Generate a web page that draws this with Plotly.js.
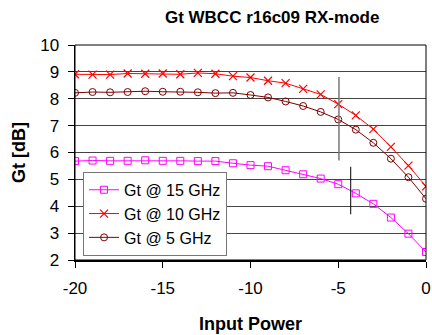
<!DOCTYPE html>
<html>
<head>
<meta charset="utf-8">
<script src="https://cdn.plot.ly/plotly-3.0.1.min.js"></script>
<style>
html,body{margin:0;padding:0;background:#fff;}
#chart{width:432px;height:335px;}
</style>
</head>
<body>
<div id="chart"></div>
<script>
// Input power (dB)
const inputPower = [-20,-19,-18,-17,-16,-15,-14,-13,-12,-11,-10,-9,-8,-7,-6,-5,-4,-3,-2,-1,0];
// Gain series
const gt15 = [5.68,5.70,5.69,5.69,5.71,5.69,5.69,5.68,5.68,5.60,5.53,5.49,5.34,5.19,5.03,4.82,4.48,4.09,3.58,2.98,2.30];
const gt10 = [8.91,8.90,8.90,8.94,8.93,8.94,8.91,8.96,8.93,8.84,8.79,8.67,8.58,8.37,8.16,7.80,7.38,6.87,6.21,5.51,4.74];
const gt5  = [8.22,8.25,8.24,8.25,8.28,8.26,8.26,8.24,8.21,8.22,8.14,8.05,7.90,7.73,7.51,7.23,6.85,6.36,5.77,5.08,4.28];
// Compression markers (vertical bars)
const markerX   = [-4.96, -4.29];
const markerTop = [8.81, 5.47];
const markerBot = [5.70, 3.70];
const seriesNames = ["Gt @ 15 GHz","Gt @ 10 GHz","Gt @ 5 GHz"];
const xTicks = [-20,-15,-10,-5,0];
const yTicks = [2,3,4,5,6,7,8,9,10];

const FONT = "Arial, 'Liberation Sans', sans-serif";

const traces = [
  {x: inputPower, y: gt15, name: seriesNames[0], mode: "lines+markers",
   line: {color: "#FF00FF", width: 1},
   marker: {symbol: "square-open", size: 7, color: "#FF00FF", line: {width: 1}}},
  {x: inputPower, y: gt10, name: seriesNames[1], mode: "lines+markers",
   line: {color: "#FF0000", width: 1},
   marker: {symbol: "x-thin-open", size: 8, color: "#FF0000", line: {width: 1.2, color: "#FF0000"}}},
  {x: inputPower, y: gt5, name: seriesNames[2], mode: "lines+markers",
   line: {color: "#800000", width: 1},
   marker: {symbol: "circle-open", size: 7, color: "#800000", line: {width: 1}}}
];
const markerColors = ["#777777", "#000000"];
const markerWidths = [1.5, 1];
markerX.forEach(function(mx, i){
  traces.push({x: [mx, mx], y: [markerBot[i], markerTop[i]], mode: "lines",
    showlegend: false, hoverinfo: "skip",
    line: {color: markerColors[i], width: markerWidths[i]}});
});

const layout = {
  width: 432, height: 335,
  margin: {l: 75, r: 6, t: 45, b: 75},
  paper_bgcolor: "#fff", plot_bgcolor: "#fff",
  font: {family: FONT, color: "#000", size: 16},
  title: {text: "<b>Gt WBCC r16c09 RX-mode</b>", font: {family: FONT, size: 17, color: "#000"},
          x: 0.63, xanchor: "center", y: 0.95, yanchor: "middle"},
  xaxis: {range: [-20, 0], tickvals: xTicks, ticktext: xTicks.map(String),
          ticks: "outside", ticklen: 6, tickcolor: "#000", tickwidth: 1,
          ticklabelstandoff: 6,
          showline: true, linecolor: "#000", linewidth: 2, mirror: false,
          showgrid: false, zeroline: false,
          tickfont: {family: FONT, size: 17, color: "#000"},
          title: {text: "<b>Input Power</b>", font: {family: FONT, size: 18, color: "#000"}, standoff: 20}},
  yaxis: {range: [2, 10], tickvals: yTicks, ticktext: yTicks.map(String),
          ticks: "outside", ticklen: 6, tickcolor: "#000", tickwidth: 1,
          ticklabelstandoff: 5,
          showline: true, linecolor: "#000", linewidth: 1.5, mirror: false,
          showgrid: true, gridcolor: "#444", gridwidth: 1, zeroline: false,
          tickfont: {family: FONT, size: 17, color: "#000"},
          title: {text: "<b>Gt [dB]</b>", font: {family: FONT, size: 18, color: "#000"}, standoff: 10}},
  shapes: [{type: "rect", xref: "paper", yref: "paper", x0: 0, x1: 1, y0: 0, y1: 1,
            line: {color: "#000", width: 1}, fillcolor: "rgba(0,0,0,0)", layer: "above"}],
  legend: {x: 0.023, y: 0.41, xanchor: "left", yanchor: "top",
           bgcolor: "#fff", bordercolor: "#777", borderwidth: 1,
           font: {family: FONT, size: 16, color: "#000"}, tracegroupgap: 0},
  showlegend: true
};

Plotly.newPlot("chart", traces, layout, {displayModeBar: false, staticPlot: true});
</script>
</body>
</html>
